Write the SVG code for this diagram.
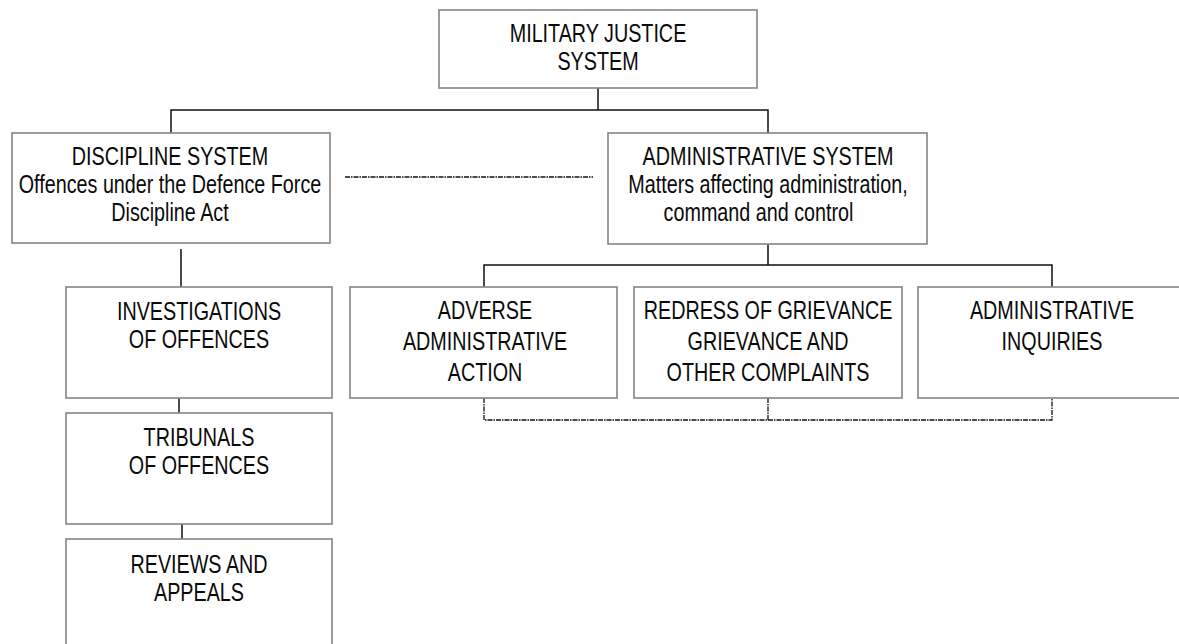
<svg xmlns="http://www.w3.org/2000/svg" width="1179" height="644" viewBox="0 0 1179 644">
<style>
.box{fill:#fff;stroke:#858585;stroke-width:1.6}
.t{font-family:"Liberation Sans",Arial,sans-serif;font-size:25px;fill:#0a0a0a;text-anchor:middle}
.c{fill:none;stroke:#111;stroke-width:1.5}
.d{fill:none;stroke:#111;stroke-width:1.3;stroke-dasharray:5 1 1.5 1}
</style>
<rect width="1179" height="644" fill="#fff"/>
<g id="connectors">
<path class="c" d="M598 88V110M171 133V110H768V133"/>
<path class="c" d="M768 244V265M484 287V265H1052V287"/>
<path class="c" d="M181 249V287M179 398V413M182 524V539"/>
<path class="d" d="M345 177H593"/>
<path class="d" d="M484 398V420H1052V398M768 398V420"/>
</g>
<g id="military-justice">
<rect class="box" x="439" y="10" width="318" height="78"/>
<g transform="translate(598 0) scale(0.79 1)"><text class="t"><tspan x="0" y="42">MILITARY JUSTICE</tspan><tspan x="0" y="70">SYSTEM</tspan></text></g>
</g>
<g id="discipline">
<rect class="box" x="12" y="133" width="318" height="110"/>
<g transform="translate(170 0) scale(0.79 1)"><text class="t"><tspan x="0" y="165">DISCIPLINE SYSTEM</tspan><tspan x="0" y="193">Offences under the Defence Force</tspan><tspan x="0" y="221">Discipline Act</tspan></text></g>
</g>
<g id="administrative">
<rect class="box" x="608" y="133" width="319" height="111"/>
<g transform="translate(768 0) scale(0.79 1)"><text class="t"><tspan x="0" y="165">ADMINISTRATIVE SYSTEM</tspan><tspan x="0" y="193">Matters affecting administration,</tspan><tspan x="-12" y="221">command and control</tspan></text></g>
</g>
<g id="investigations">
<rect class="box" x="66" y="287" width="266" height="111"/>
<g transform="translate(199 0) scale(0.79 1)"><text class="t"><tspan x="0" y="320">INVESTIGATIONS</tspan><tspan x="0" y="348">OF OFFENCES</tspan></text></g>
</g>
<g id="tribunals">
<rect class="box" x="66" y="413" width="266" height="111"/>
<g transform="translate(199 0) scale(0.79 1)"><text class="t"><tspan x="0" y="446">TRIBUNALS</tspan><tspan x="0" y="474">OF OFFENCES</tspan></text></g>
</g>
<g id="reviews">
<rect class="box" x="66" y="539" width="266" height="120"/>
<g transform="translate(199 0) scale(0.79 1)"><text class="t"><tspan x="0" y="573">REVIEWS AND</tspan><tspan x="0" y="601">APPEALS</tspan></text></g>
</g>
<g id="adverse">
<rect class="box" x="350" y="287" width="267" height="111"/>
<g transform="translate(485 0) scale(0.79 1)"><text class="t"><tspan x="0" y="319">ADVERSE</tspan><tspan x="0" y="350">ADMINISTRATIVE</tspan><tspan x="0" y="381">ACTION</tspan></text></g>
</g>
<g id="redress">
<rect class="box" x="634" y="287" width="268" height="111"/>
<g transform="translate(768 0) scale(0.79 1)"><text class="t"><tspan x="0" y="319">REDRESS OF GRIEVANCE</tspan><tspan x="0" y="350">GRIEVANCE AND</tspan><tspan x="0" y="381">OTHER COMPLAINTS</tspan></text></g>
</g>
<g id="inquiries">
<rect class="box" x="918" y="287" width="270" height="111"/>
<g transform="translate(1052 0) scale(0.79 1)"><text class="t"><tspan x="0" y="319">ADMINISTRATIVE</tspan><tspan x="0" y="350">INQUIRIES</tspan></text></g>
</g>
</svg>
